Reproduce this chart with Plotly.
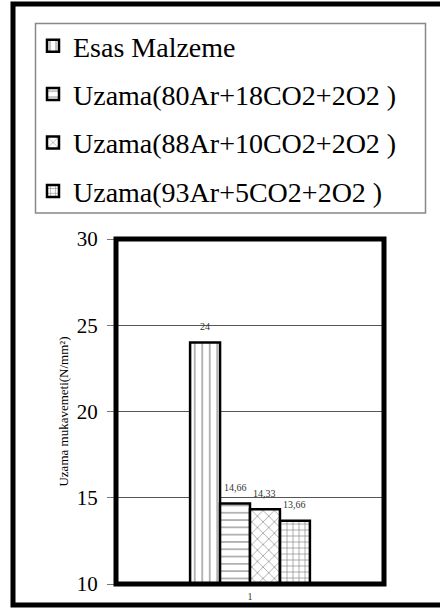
import plotly.graph_objects as go

# ---- data ----
categories = ["1"]
series_names = [
    "Esas Malzeme",
    "Uzama(80Ar+18CO2+2O2 )",
    "Uzama(88Ar+10CO2+2O2 )",
    "Uzama(93Ar+5CO2+2O2 )",
]
series_values = [24, 14.66, 14.33, 13.66]
y_ticks = [10, 15, 20, 25, 30]
y_title = "Uzama mukavemeti(N/mm²)"

# ---- styling ----
patterns = ["|", "-", "x", "+"]
pattern_sizes = [7.5, 7.3, 8, 6]
pattern_solid = [0.15, 0.15, 0.15, 0.2]
FONT = "Liberation Serif, Times New Roman, serif"

W, H = 440, 610
L, R, T, B = 116, 384, 239, 584
PW, PH = R - L, B - T


def px_x(x):
    return (x - L) / PW


def px_y(y):
    return (B - y) / PH


bargap = 0.553
fig = go.Figure()
for i, (name, val) in enumerate(zip(series_names, series_values)):
    fig.add_trace(go.Bar(
        x=categories, y=[val], name=name, legendgroup=name,
        marker=dict(color="white",
                    line=dict(color="black", width=2.5),
                    pattern=dict(shape=patterns[i], fgcolor="black", bgcolor="white",
                                 size=pattern_sizes[i], solidity=pattern_solid[i])),
    ))

# value labels above bars
n = len(series_values)
w = (1 - bargap) / n
annotations = []
for i, val in enumerate(series_values):
    annotations.append(dict(
        x=(i - (n - 1) / 2) * w, y=val, xref="x", yref="y",
        text=f"{val:g}".replace(".", ","), showarrow=False,
        yshift=16, font=dict(family=FONT, size=10, color="#333"),
    ))

shapes = [
    # plot frame
    dict(type="rect", xref="paper", yref="paper", x0=0, x1=1, y0=0, y1=1,
         line=dict(color="black", width=5), layer="above"),
    # legend box
    dict(type="rect", xref="paper", yref="paper", x0=px_x(35.5), x1=px_x(425.5),
         y0=px_y(213), y1=px_y(23.5), line=dict(color="#888", width=1.5)),
    # outer border
    dict(type="rect", xref="paper", yref="paper", x0=px_x(13), x1=px_x(452),
         y0=px_y(605), y1=px_y(4), line=dict(color="black", width=5)),
]

fig.update_layout(
    width=W, height=H,
    margin=dict(l=L, r=W - R, t=T, b=H - B, pad=0, autoexpand=False),
    paper_bgcolor="white", plot_bgcolor="white",
    font=dict(family=FONT, color="black"),
    barmode="group", bargap=bargap, bargroupgap=0,
    showlegend=True,
    legend=dict(x=px_x(33), y=px_y(21), xanchor="left", yanchor="top",
                font=dict(family=FONT, size=28, color="black"),
                bgcolor="rgba(0,0,0,0)", borderwidth=0,
                tracegroupgap=9, traceorder="grouped"),
    xaxis=dict(showgrid=False, showline=False, ticks="", zeroline=False,
               automargin=False, ticklabelstandoff=5,
               tickfont=dict(family=FONT, size=10, color="#333")),
    yaxis=dict(range=[10, 30], tickvals=y_ticks, showgrid=True, gridcolor="#555",
               gridwidth=1, zeroline=False, showline=False, automargin=False,
               ticks="outside", ticklen=8, tickcolor="#777", tickwidth=1,
               ticklabelstandoff=5,
               tickfont=dict(family=FONT, size=21, color="black"),
               title=dict(text=y_title, font=dict(family=FONT, size=13, color="black"),
                          standoff=5)),
    shapes=shapes, annotations=annotations,
)

fig.write_html("out.html")
